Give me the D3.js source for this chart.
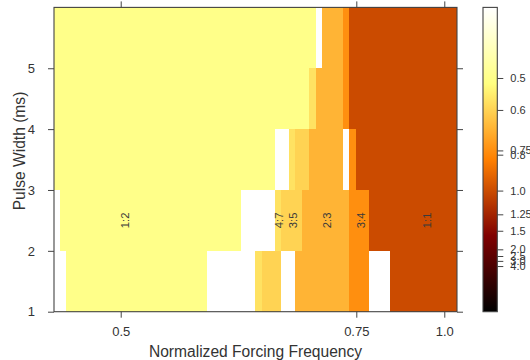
<!DOCTYPE html>
<html>
<head>
<meta charset="utf-8">
<script src="https://cdn.jsdelivr.net/npm/d3@7"></script>
<style>
  html, body { margin: 0; padding: 0; background: #fff; }
  svg { display: block; font-family: "Liberation Sans", Arial, sans-serif; }
</style>
</head>
<body>
<svg id="chart" width="530" height="360"></svg>
<script>
// ---------- data ----------
const xTickValues = [0.5, 0.75, 1.0];
const xTickLabels = ["0.5", "0.75", "1.0"];
const yTickValues = [1, 2, 3, 4, 5];
const xLimits = [0.4292, 1.0361];
const yLimits = [1, 6];

const ratioNames  = ["1:2", "4:7", "3:5", "2:3", "3:4", "1:1"];
const ratioValues = [0.5, 0.5714, 0.6, 0.6667, 0.75, 1.0];
const ratioLabelFreq  = [0.5046, 0.6683, 0.6832, 0.7186, 0.7625, 0.9517];
const ratioLabelPulse = [2.5, 2.5, 2.5, 2.5, 2.5, 2.5];

// pulse-width bands (ms)
const pulseBands = [[1, 2], [2, 3], [3, 4], [4, 5], [5, 6]];
// locked regions per band: [freq from, freq to, ratio]
const band1Cells = [[0.4420, 0.5919, "1:2"], [0.6425, 0.6499, "4:7"], [0.6499, 0.6704, "3:5"],
                    [0.6850, 0.7422, "2:3"], [0.7422, 0.7869, "3:4"], [0.8457, 1.0361, "1:1"]];
const band2Cells = [[0.4356, 0.6277, "1:2"], [0.6637, 0.6706, "4:7"], [0.6706, 0.6924, "3:5"],
                    [0.6924, 0.7422, "2:3"], [0.7422, 0.7869, "3:4"], [0.7869, 1.0361, "1:1"]];
const band3Cells = [[0.4292, 0.6637, "1:2"], [0.6786, 0.6850, "4:7"], [0.6850, 0.6993, "3:5"],
                    [0.6993, 0.7354, "2:3"], [0.7422, 0.7497, "3:4"], [0.7497, 1.0361, "1:1"]];
const band4Cells = [[0.4292, 0.6993, "1:2"], [0.6993, 0.7072, "4:7"], [0.7072, 0.7354, "2:3"],
                    [0.7354, 0.7422, "3:4"], [0.7422, 1.0361, "1:1"]];
const band5Cells = [[0.4292, 0.7072, "1:2"], [0.7136, 0.7354, "2:3"],
                    [0.7354, 0.7422, "3:4"], [0.7422, 1.0361, "1:1"]];
const bandCells = [band1Cells, band2Cells, band3Cells, band4Cells, band5Cells];

// colour bar ticks and the colour norm (fraction of the colour map)
const cbTickValues = [0.5, 0.6, 0.75, 0.8, 1.0, 1.25, 1.5, 2.0, 2.5, 3.0, 4.0];
const cbTickLabels = ["0.5", "0.6", "0.75", "0.8", "1.0", "1.25", "1.5", "2.0", "2.5", "3.0", "4.0"];
const cbNormFractions = [0.768, 0.663, 0.530, 0.516, 0.398, 0.320, 0.266, 0.205, 0.183, 0.167, 0.150];

// ---------- layout ----------
const svg = d3.select("#chart");
const L = 54, R = 457, T = 7.4, B = 311.7;
const cbL = 483, cbR = 497.3;
const ink = "#333";
const lineInk = "#444";

// x axis scale (non-linear frequency axis, piecewise)
const x = d3.scaleLinear().domain([xLimits[0], 0.75, xLimits[1]]).range([L, 356.3, R]);
const y = d3.scaleLinear().domain(yLimits).range([B, T]);

// colour: afmhot map
function afmhot(t) {
  const c = v => Math.max(0, Math.min(1, v));
  return d3.rgb(255 * c(2 * t), 255 * c(2 * t - 0.5), 255 * c(2 * t - 1)).toString();
}
const norm = d3.scaleLinear().domain(cbTickValues).range(cbNormFractions);
const ratioValue = name => ratioValues[ratioNames.indexOf(name)];

// ---------- cells ----------
const cells = [];
bandCells.forEach((list, i) => list.forEach(c => cells.push({
  x0: c[0], x1: c[1], y0: pulseBands[i][0], y1: pulseBands[i][1], r: c[2]
})));

svg.append("g").selectAll("rect").data(cells).join("rect")
  .attr("x", d => x(d.x0))
  .attr("width", d => x(d.x1) - x(d.x0))
  .attr("y", d => y(d.y1))
  .attr("height", d => y(d.y0) - y(d.y1))
  .attr("fill", d => afmhot(norm(ratioValue(d.r))))
  .attr("shape-rendering", "crispEdges");

// ratio labels
svg.append("g").selectAll("text").data(ratioNames).join("text")
  .attr("transform", (d, i) => `translate(${x(ratioLabelFreq[i])},${y(ratioLabelPulse[i])}) rotate(-90)`)
  .attr("text-anchor", "middle")
  .attr("dy", "0.35em")
  .attr("font-size", 11.3)
  .attr("fill", "#3a3a3a")
  .text(d => d);

// ---------- axes ----------
function styleAxis(g) {
  g.select(".domain").remove();
  g.selectAll(".tick line").attr("stroke", lineInk);
  g.selectAll(".tick text").attr("fill", ink).attr("font-size", 13)
    .attr("font-family", "Liberation Sans, Arial, sans-serif");
}
svg.append("g").attr("transform", `translate(0,${B})`)
  .call(d3.axisBottom(x).tickValues(xTickValues).tickFormat((d, i) => xTickLabels[i]).tickSize(6).tickPadding(9))
  .call(styleAxis);
svg.append("g").attr("transform", `translate(0,${T})`)
  .call(d3.axisTop(x).tickValues(xTickValues).tickFormat("").tickSize(6))
  .call(styleAxis);
svg.append("g").attr("transform", `translate(${L},0)`)
  .call(d3.axisLeft(y).tickValues(yTickValues).tickFormat(d3.format("d")).tickSize(6).tickPadding(13))
  .call(styleAxis);
svg.append("g").attr("transform", `translate(${R},0)`)
  .call(d3.axisRight(y).tickValues(yTickValues).tickFormat("").tickSize(6))
  .call(styleAxis);

svg.append("rect")
  .attr("x", L).attr("y", T).attr("width", R - L).attr("height", B - T)
  .attr("fill", "none").attr("stroke", lineInk).attr("stroke-width", 1.1);

// axis titles
svg.append("text")
  .attr("x", (L + R) / 2).attr("y", 356.5)
  .attr("text-anchor", "middle").attr("font-size", 15.6).attr("fill", ink)
  .text("Normalized Forcing Frequency");
svg.append("text")
  .attr("transform", `translate(25,151) rotate(-90)`)
  .attr("text-anchor", "middle").attr("font-size", 15.6).attr("fill", ink)
  .text("Pulse Width (ms)");

// ---------- colour bar ----------
const defs = svg.append("defs");
const grad = defs.append("linearGradient").attr("id", "cbgrad")
  .attr("x1", 0).attr("y1", 1).attr("x2", 0).attr("y2", 0);
d3.range(0, 1.0001, 0.05).forEach(t => {
  grad.append("stop").attr("offset", t).attr("stop-color", afmhot(t));
});
const cbY = d3.scaleLinear().domain([0, 1]).range([B, T]);
svg.append("rect")
  .attr("x", cbL).attr("y", T).attr("width", cbR - cbL).attr("height", B - T)
  .attr("fill", "url(#cbgrad)").attr("stroke", lineInk).attr("stroke-width", 1.1);

const cbAxisScale = d3.scaleLinear().domain(cbTickValues).range(cbNormFractions.map(f => cbY(f)));
svg.append("g").attr("transform", `translate(${cbR},0)`)
  .call(d3.axisRight(cbAxisScale).tickValues(cbTickValues).tickFormat((d, i) => cbTickLabels[i]).tickSize(6).tickPadding(7))
  .call(styleAxis)
  .call(g => g.selectAll(".tick text").attr("font-size", 11));
</script>
</body>
</html>
